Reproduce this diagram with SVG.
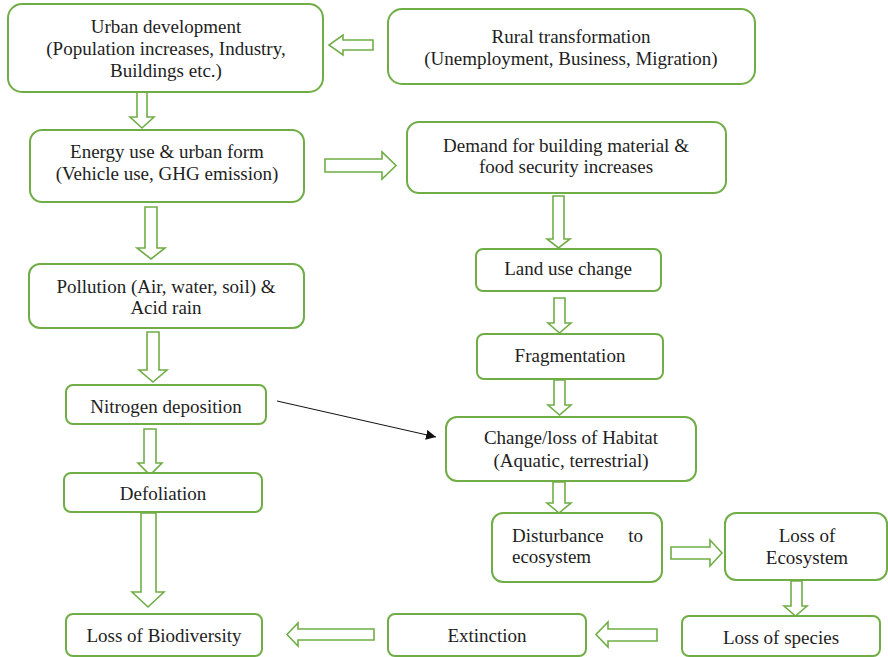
<svg xmlns="http://www.w3.org/2000/svg" width="888" height="657" viewBox="0 0 888 657">
  <style>
    .box { fill: #ffffff; stroke: #70ad47; stroke-width: 2; }
    .blk { fill: #ffffff; stroke: #70ad47; stroke-width: 1.6; stroke-linejoin: miter; }
    .lbl { font-family: "Liberation Serif", "DejaVu Serif", "Times New Roman", serif; font-size: 19px; fill: #1e1e1e; text-anchor: middle; }
    .lbl.st { text-anchor: start; }
    .lbl.en { text-anchor: end; }
    .thin { stroke: #111111; stroke-width: 1; fill: none; }
  </style>
  <defs>
    <marker id="tri" viewBox="0 0 10 10" refX="10" refY="5" markerWidth="10" markerHeight="10" markerUnits="userSpaceOnUse" orient="auto">
      <path d="M0,0 L10,5 L0,10 z" fill="#111111"/>
    </marker>
  </defs>
  <rect width="888" height="657" fill="#ffffff"/>

  <!-- connectors: hollow block arrows and one thin arrow -->
  <g id="connectors">
    <!-- Rural -> Urban (left) -->
    <path class="blk" d="M373,40 L343,40 L343,35 L329,45 L343,55 L343,50 L373,50 Z"/>
    <!-- Urban -> Energy (down) -->
    <path class="blk" d="M137,92 L137,117 L130,117 L142,128 L154,117 L147,117 L147,92 Z"/>
    <!-- Energy -> Demand (right) -->
    <path class="blk" d="M325,159 L382,159 L382,152 L396,165.5 L382,179 L382,172 L325,172 Z"/>
    <!-- Energy -> Pollution (down) -->
    <path class="blk" d="M145,207 L145,248 L137,248 L151,259 L165,248 L157,248 L157,207 Z"/>
    <!-- Pollution -> Nitrogen (down) -->
    <path class="blk" d="M147,332 L147,370 L139,370 L153,382 L167,370 L159,370 L159,332 Z"/>
    <!-- Nitrogen -> Defoliation (down) -->
    <path class="blk" d="M144,429 L144,463 L138,463 L150,475 L162,463 L156,463 L156,429 Z"/>
    <!-- Defoliation -> Loss of Biodiversity (down) -->
    <path class="blk" d="M141,513 L141,592 L132,592 L148,607 L164,592 L156,592 L156,513 Z"/>
    <!-- Demand -> Land use change (down) -->
    <path class="blk" d="M553,196 L553,239 L547,239 L558.5,248 L570,239 L564,239 L564,196 Z"/>
    <!-- Land use change -> Fragmentation (down) -->
    <path class="blk" d="M554,298 L554,323 L548,323 L559.5,333 L571,323 L565,323 L565,298 Z"/>
    <!-- Fragmentation -> Habitat (down) -->
    <path class="blk" d="M554,380 L554,405 L548,405 L559.5,415 L571,405 L565,405 L565,380 Z"/>
    <!-- Habitat -> Disturbance (down) -->
    <path class="blk" d="M553,482 L553,503 L547,503 L559,513 L571,503 L565,503 L565,482 Z"/>
    <!-- Disturbance -> Loss of Ecosystem (right) -->
    <path class="blk" d="M671,547 L710,547 L710,540 L722,553 L710,566 L710,559 L671,559 Z"/>
    <!-- Loss of Ecosystem -> Loss of species (down) -->
    <path class="blk" d="M791,581 L791,606 L784,606 L795.5,616 L807,606 L802,606 L802,581 Z"/>
    <!-- Loss of species -> Extinction (left) -->
    <path class="blk" d="M657,629 L608,629 L608,622 L596,634.5 L608,647 L608,641 L657,641 Z"/>
    <!-- Extinction -> Loss of Biodiversity (left) -->
    <path class="blk" d="M374,629 L298,629 L298,623 L287,634.5 L298,646 L298,640 L374,640 Z"/>
    <!-- Nitrogen deposition -> Habitat (thin) -->
    <line class="thin" x1="277" y1="401" x2="436" y2="437" marker-end="url(#tri)"/>
  </g>

  <g id="urban">
    <rect class="box" x="8" y="4" width="315" height="88" rx="14"/>
    <text class="lbl" x="166" y="33">Urban development</text>
    <text class="lbl" x="166" y="55">(Population increases, Industry,</text>
    <text class="lbl" x="166" y="77">Buildings etc.)</text>
  </g>
  <g id="rural">
    <rect class="box" x="388" y="9" width="367" height="75" rx="14"/>
    <text class="lbl" x="571" y="43">Rural transformation</text>
    <text class="lbl" x="571" y="65">(Unemployment, Business, Migration)</text>
  </g>
  <g id="energy">
    <rect class="box" x="30" y="130" width="274" height="72" rx="12"/>
    <text class="lbl" x="167" y="158">Energy use &amp; urban form</text>
    <text class="lbl" x="167" y="180">(Vehicle use, GHG emission)</text>
  </g>
  <g id="demand">
    <rect class="box" x="407" y="122" width="319" height="71" rx="12"/>
    <text class="lbl" x="566" y="152">Demand for building material &amp;</text>
    <text class="lbl" x="566" y="173">food security increases</text>
  </g>
  <g id="pollution">
    <rect class="box" x="29" y="264" width="275" height="64" rx="11"/>
    <text class="lbl" x="166" y="293">Pollution (Air, water, soil) &amp;</text>
    <text class="lbl" x="166" y="314">Acid rain</text>
  </g>
  <g id="nitrogen">
    <rect class="box" x="66" y="385" width="200" height="39" rx="7"/>
    <text class="lbl" x="166" y="413">Nitrogen deposition</text>
  </g>
  <g id="defoliation">
    <rect class="box" x="64" y="473" width="198" height="39" rx="7"/>
    <text class="lbl" x="163" y="500">Defoliation</text>
  </g>
  <g id="biodiversity">
    <rect class="box" x="66" y="614" width="196" height="42" rx="7"/>
    <text class="lbl" x="164" y="642">Loss of Biodiversity</text>
  </g>
  <g id="landuse">
    <rect class="box" x="476" y="249" width="185" height="42" rx="7"/>
    <text class="lbl" x="568" y="275">Land use change</text>
  </g>
  <g id="fragmentation">
    <rect class="box" x="477" y="334" width="186" height="45" rx="7"/>
    <text class="lbl" x="570" y="362">Fragmentation</text>
  </g>
  <g id="habitat">
    <rect class="box" x="446" y="417" width="250" height="64" rx="11"/>
    <text class="lbl" x="571" y="444">Change/loss of Habitat</text>
    <text class="lbl" x="571" y="467">(Aquatic, terrestrial)</text>
  </g>
  <g id="disturbance">
    <rect class="box" x="492" y="513" width="170" height="69" rx="11"/>
    <text class="lbl st" x="512" y="542">Disturbance</text>
    <text class="lbl en" x="643" y="542">to</text>
    <text class="lbl st" x="512" y="563">ecosystem</text>
  </g>
  <g id="ecosystem">
    <rect class="box" x="725" y="513" width="162" height="67" rx="11"/>
    <text class="lbl" x="807" y="542">Loss of</text>
    <text class="lbl" x="807" y="564">Ecosystem</text>
  </g>
  <g id="species">
    <rect class="box" x="682" y="616" width="198" height="40" rx="7"/>
    <text class="lbl" x="781" y="644">Loss of species</text>
  </g>
  <g id="extinction">
    <rect class="box" x="388" y="614" width="198" height="42" rx="7"/>
    <text class="lbl" x="487" y="642">Extinction</text>
  </g>
</svg>
